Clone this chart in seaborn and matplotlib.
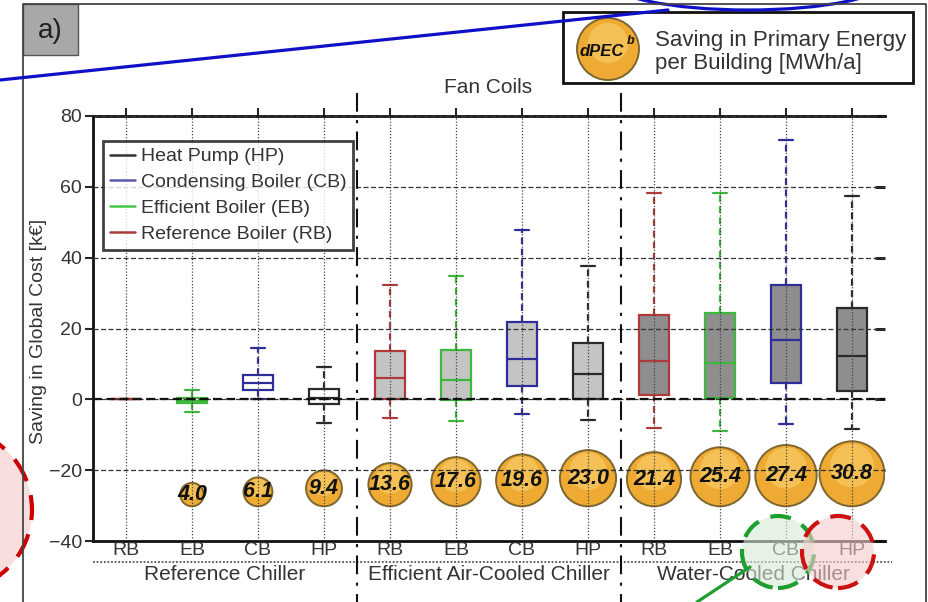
import numpy as np
import pandas as pd
import matplotlib.pyplot as plt
import seaborn as sns
from matplotlib.lines import Line2D
from matplotlib.patches import Rectangle, Ellipse

# ---- data ----
groups = ["Reference Chiller", "Efficient Air-Cooled Chiller", "Water-Cooled Chiller"]
systems = ["RB", "EB", "CB", "HP"]

# box statistics for the 12 boxes (3 chillers x 4 heat generators), k€
whisker_low = [0.0, -3.6, 0.0, -6.7, -5.2, -6.1, -4.0, -5.9, -8.0, -8.8, -6.9, -8.3]
q1 = [0.0, -1.1, 2.5, -1.4, 0.0, -0.3, 3.8, 0.0, 1.1, 0.3, 4.6, 2.3]
median = [0.0, -0.5, 4.5, 0.3, 6.0, 5.4, 11.5, 7.1, 10.7, 10.4, 16.7, 12.2]
q3 = [0.0, 0.3, 7.0, 2.8, 13.6, 13.8, 21.8, 16.0, 23.9, 24.4, 32.2, 25.8]
whisker_high = [0.0, 2.5, 14.4, 9.0, 32.4, 34.7, 47.9, 37.7, 58.3, 58.3, 73.2, 57.3]

# primary energy saving per building, MWh/a (no bubble for the reference case)
dpec_values = [4.0, 6.1, 9.4, 13.6, 17.6, 19.6, 23.0, 21.4, 25.4, 27.4, 30.8]

legend_labels = ["Heat Pump (HP)", "Condensing Boiler (CB)",
                 "Efficient Boiler (EB)", "Reference Boiler (RB)"]

# ---- styles ----
line_colors = {"RB": "#b03a3a", "EB": "#3cb83c", "CB": "#2e2e9a", "HP": "#2a2a2a"}
legend_colors = ["#333333", "#5a5aa8", "#44c844", "#a83a3a"]
fill_colors = ["white", "#c4c4c4", "#8e8e8e"]
text_col = "#333333"

sns.set_theme(style="white")
plt.rcParams["font.family"] = ["Liberation Sans", "DejaVu Sans"]

W, H = 929, 602
fig = plt.figure(figsize=(W / 100, H / 100), dpi=100)
ax = fig.add_axes([93 / W, 61 / H, 792 / W, 425 / H])

# long-form table: 5 summary values per box
rows = []
for i in range(12):
    for v in (whisker_low[i], q1[i], median[i], q3[i], whisker_high[i]):
        rows.append({"pos": i, "group": groups[i // 4], "system": systems[i % 4], "value": v})
df = pd.DataFrame(rows)

for i in range(12):
    sub = df[df["pos"] == i]
    sys_name = systems[i % 4]
    sns.boxplot(data=sub, x="pos", y="value", native_scale=True, orient="x",
                whis=(0, 100), width=0.45, saturation=1,
                color=fill_colors[i // 4], linecolor=line_colors[sys_name],
                linewidth=1.6, fliersize=0,
                whiskerprops={"linestyle": (0, (3, 2))}, ax=ax)

ax.set_xlim(-0.5, 11.5)
ax.set_ylim(-40, 80)

# ---- bubbles (area proportional to saving) ----
bub = pd.DataFrame({"pos": np.arange(1, 12), "dpec": dpec_values})
s_max = 2190.0
px_per_unit = ax.bbox.height / 120.0
radius_px = np.sqrt(s_max * bub["dpec"] / 30.8) / 2 * fig.dpi / 72
bub["yc"] = -30.2 + radius_px / px_per_unit

sns.scatterplot(data=bub, x="pos", y="yc", size="dpec", sizes=(0, s_max),
                size_norm=(0, 30.8), color="#eeaa33", edgecolor="#7d6630",
                linewidth=1.4, legend=False, zorder=2, ax=ax)
bub["yh"] = bub["yc"] + 0.25 * radius_px / px_per_unit
sns.scatterplot(data=bub, x="pos", y="yh", size="dpec", sizes=(0, s_max * 0.45),
                size_norm=(0, 30.8), color="#f8cc66", edgecolor="none",
                alpha=0.7, legend=False, zorder=2, ax=ax)
for p, yc, v in zip(bub["pos"], bub["yc"], bub["dpec"]):
    ax.text(p, yc, f"{v:.1f}", ha="center", va="center", fontsize=15.5,
            fontweight="bold", style="italic", color="#111111", zorder=4)

# ---- grid, spines, ticks ----
ax.set_axisbelow(False)
ax.xaxis.grid(True, linestyle=(0, (1, 1.5)), color="#444444", linewidth=0.9)
ax.yaxis.grid(True, linestyle=(0, (4, 2)), color="#333333", linewidth=0.9)
ax.axhline(0, color="#111111", linestyle=(0, (4, 2)), linewidth=1.6, zorder=2.6)

for side in ("left", "top", "bottom"):
    ax.spines[side].set_color("#111111")
    ax.spines[side].set_linewidth(2)
ax.spines["right"].set_visible(False)

ax.set_yticks(np.arange(-40, 81, 20))
ax.tick_params(axis="y", left=True, direction="out", length=6, width=1.5,
               labelsize=14, labelcolor=text_col, pad=2)
ax.set_xticks(range(12))
ax.set_xticklabels(systems * 3)
ax.tick_params(axis="x", bottom=True, length=0, labelsize=14,
               labelcolor=text_col, pad=1)
ax.set_xlabel("")
ax.set_ylabel("Saving in Global Cost [k€]", fontsize=14, color=text_col)
ax.yaxis.set_label_coords(-0.058, 0.494)

sec_y = ax.secondary_yaxis("right")
sec_y.set_yticks(np.arange(-40, 81, 20))
sec_y.tick_params(direction="in", length=7, width=2.2, labelright=False)
sec_y.spines["right"].set_visible(False)
sec_x = ax.secondary_xaxis("top")
sec_x.set_xticks(range(12))
sec_x.tick_params(direction="out", length=6, width=1.5, labeltop=False)
sec_x.spines["top"].set_visible(False)

# separators between chiller groups
xt = ax.get_xaxis_transform()
for xs in (3.5, 7.5):
    ax.plot([xs, xs], [1.055, -0.145], transform=xt, color="#111111",
            linewidth=1.5, linestyle=(0, (9, 4, 1.5, 4)), clip_on=False, zorder=3)
ax.plot([-0.5, 11.6], [-0.049, -0.049], transform=xt, color="#555555",
        linewidth=1.3, linestyle=(0, (1, 1)), clip_on=False)
for k, g in enumerate(groups):
    ax.text(4 * k + 1.5, -0.08, g, transform=xt, ha="center", va="center",
            fontsize=15, color=text_col)
ax.text(0.499, 1.066, "Fan Coils", transform=ax.transAxes, ha="center",
        va="center", fontsize=15, color=text_col)

handles = [Line2D([], [], color=c, linewidth=1.8) for c in legend_colors]
leg = ax.legend(handles, legend_labels, loc="upper left",
                bbox_to_anchor=(0.0126, 0.941), fontsize=14, frameon=True,
                fancybox=False, handlelength=1.3, handletextpad=0.3,
                labelspacing=0.42, borderpad=0.35, borderaxespad=0)
leg.get_frame().set_edgecolor("#111111")
leg.get_frame().set_linewidth(2)
for t in leg.get_texts():
    t.set_color(text_col)
leg.set_zorder(5)


# ---- figure-level decorations (pixel positions) ----
def fx(x):
    return x / W


def fy(y):
    return 1 - y / H


def circle(cx, cy, r, **kw):
    e = Ellipse((fx(cx), fy(cy)), 2 * r / W, 2 * r / H,
                transform=fig.transFigure, **kw)
    fig.add_artist(e)


# panel frame and "a)" tag
fig.add_artist(Line2D([fx(23), fx(23), fx(926), fx(926)],
                      [fy(602), fy(4), fy(4), fy(602)],
                      transform=fig.transFigure, color="#444444", linewidth=1.3))
fig.add_artist(Rectangle((fx(23), fy(55)), 55 / W, 51 / H, transform=fig.transFigure,
                         facecolor="#a8a8a8", edgecolor="#555555", linewidth=1))
fig.text(fx(50), fy(31), "a)", fontsize=20, ha="center", va="center", color="#222222")

# energy legend box
fig.add_artist(Rectangle((fx(563), fy(83)), 350 / W, 71 / H, transform=fig.transFigure,
                         facecolor="white", edgecolor="#111111", linewidth=2))
circle(608, 49, 31, facecolor="#eeaa33", edgecolor="#7d6630", linewidth=1.4)
circle(608, 43, 20, facecolor="#f8cc66", edgecolor="none", alpha=0.7)
fig.text(fx(602), fy(51), "dPEC", fontsize=12, fontweight="bold", style="italic",
         ha="center", va="center", color="#111111")
fig.text(fx(627), fy(41), "b", fontsize=9, fontweight="bold", style="italic",
         ha="left", va="center", color="#111111")
fig.text(fx(655), fy(52), "Saving in Primary Energy\nper Building [MWh/a]",
         fontsize=16, ha="left", va="center", color=text_col, linespacing=1.12)

# blue callout
fig.add_artist(Line2D([0, fx(668)], [fy(80), fy(10)], transform=fig.transFigure,
                      color="#1010c8", linewidth=2.3))
fig.add_artist(Ellipse((fx(748), fy(-20)), 282 / W, 60 / H, transform=fig.transFigure,
                       facecolor="none", edgecolor="#1010c8", linewidth=2.3))

# highlight circles
circle(-50, 510, 82, facecolor="#f6c8c8", edgecolor="none", alpha=0.6)
circle(-50, 510, 82, facecolor="none", edgecolor="#cc0000", linewidth=3,
       linestyle=(0, (6, 3.5)))
circle(778, 552, 36, facecolor="#d6ead6", edgecolor="none", alpha=0.6)
circle(778, 552, 36, facecolor="none", edgecolor="#1e9e2e", linewidth=3,
       linestyle=(0, (5, 3)))
circle(838, 552, 36, facecolor="#f6cccc", edgecolor="none", alpha=0.6)
circle(838, 552, 36, facecolor="none", edgecolor="#cc1111", linewidth=3,
       linestyle=(0, (5, 3)))
fig.add_artist(Line2D([fx(697), fx(750)], [fy(602), fy(567)], transform=fig.transFigure,
                      color="#1e9e2e", linewidth=2.3))

fig.savefig("out.png", dpi=100, facecolor="white")
